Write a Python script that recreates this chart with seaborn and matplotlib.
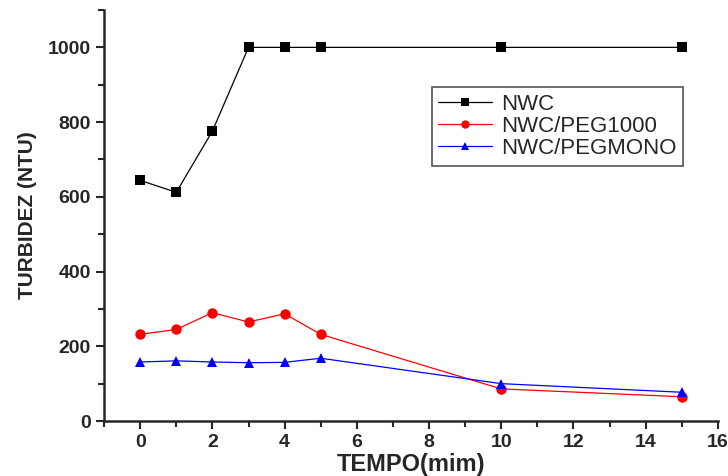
import pandas as pd
import numpy as np
from matplotlib import pyplot as plt
from matplotlib.ticker import MultipleLocator
import seaborn as sns

tempo = [0, 1, 2, 3, 4, 5, 10, 15]
nwc = [644, 612, 776, 1000, 1000, 1000, 1000, 1000]
peg1000 = [232, 245, 290, 265, 287, 232, 86, 65]
pegmono = [158, 161, 158, 156, 157, 168, 100, 77]
series = ['NWC', 'NWC/PEG1000', 'NWC/PEGMONO']
colors = ['black', 'red', 'blue']
markers = ['s', 'o', '^']

sns.set_style('ticks')
plt.rcParams['font.family'] = ['Liberation Sans', 'DejaVu Sans']

df = pd.DataFrame({
    'tempo': tempo * 3,
    'turbidez': nwc + peg1000 + pegmono,
    'amostra': np.repeat(series, len(tempo)),
})

fig = plt.figure(figsize=(7.28, 4.76), dpi=100)
ax = fig.add_axes([0.143, 0.1155, 0.843, 0.8635])

sns.lineplot(data=df, x='tempo', y='turbidez', hue='amostra', style='amostra',
             palette=colors, markers=markers, dashes=False, markersize=7.5,
             markeredgewidth=0, linewidth=0.9, ax=ax)

ax.set_xlim(-1, 16)
ax.set_ylim(0, 1100)
ax.xaxis.set_major_locator(MultipleLocator(2))
ax.xaxis.set_minor_locator(MultipleLocator(1))
ax.yaxis.set_major_locator(MultipleLocator(200))
ax.yaxis.set_minor_locator(MultipleLocator(100))
ax.tick_params(which='major', direction='out', length=6, width=1.5, labelsize=14)
ax.tick_params(which='minor', direction='out', length=4, width=1.5)
for lab in ax.get_xticklabels() + ax.get_yticklabels():
    lab.set_fontweight('bold')
ax.spines['top'].set_visible(False)
ax.spines['right'].set_visible(False)
ax.spines['left'].set_linewidth(1.8)
ax.spines['bottom'].set_linewidth(1.8)

ax.set_xlabel('TEMPO(mim)', fontsize=17, fontweight='bold', labelpad=1)
ax.set_ylabel('TURBIDEZ (NTU)', fontsize=15, fontweight='bold', labelpad=8)

leg = ax.legend(loc='upper left', bbox_to_anchor=(0.534, 0.812), fontsize=16,
                fancybox=False, framealpha=1, edgecolor='#555555',
                handlelength=2.4, handletextpad=0.4, borderpad=0.3,
                labelspacing=0.05, markerscale=0.8, borderaxespad=0)
leg.get_frame().set_linewidth(1.2)

fig.savefig('out.png', dpi=100)
